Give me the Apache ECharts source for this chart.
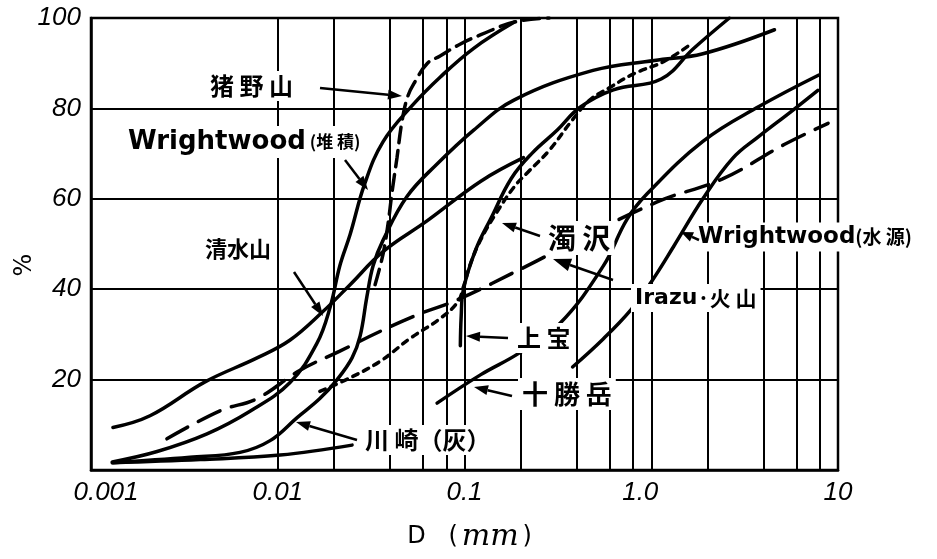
<!DOCTYPE html>
<html><head><meta charset="utf-8">
<script src="https://cdn.jsdelivr.net/npm/echarts@6/dist/echarts.min.js"></script>
<style>html,body{margin:0;padding:0;background:#fff}#c{width:937px;height:559px}</style>
</head><body><div id="c"></div>
<script>
// ---- tick labels / grid values ----
const xTickLabels = ['0.001', '0.01', '0.1', '1.0', '10'];
const yTickLabels = ['', '20', '40', '60', '80', '100'];
const minorGridD = [0.002, 0.004, 0.006, 0.008, 0.02, 0.04, 0.06, 0.08, 0.2, 0.4, 0.6, 0.8, 2, 4, 6, 8];

// ---- curves: D (mm) and cumulative % ----
const inoD = [0.0332, 0.0366, 0.039, 0.0409, 0.0435, 0.0463, 0.0498, 0.0545, 0.063, 0.074, 0.0946, 0.1223, 0.185, 0.284];
const inoY = [41.0, 47.7, 54.6, 61.4, 69.1, 77.2, 82.8, 86.0, 89.9, 91.6, 94.2, 96.3, 99.1, 100];

const wwDepD = [0.0013, 0.00226, 0.00418, 0.0071, 0.0116, 0.0162, 0.0191, 0.0215, 0.0244, 0.0292, 0.0366, 0.0524, 0.074, 0.112, 0.185];
const wwDepY = [1.8, 4.1, 8.0, 13.0, 19.3, 28.0, 36.1, 45.2, 52.1, 63.3, 72.6, 80.6, 86.9, 93.3, 99.1];

const shimizuD = [0.00131, 0.00207, 0.00408, 0.00775, 0.0116, 0.0174, 0.0244, 0.0366, 0.063, 0.1223, 0.207];
const shimizuY = [9.4, 12.0, 19.5, 24.8, 28.7, 35.0, 41.0, 48.3, 55.1, 63.9, 69.1];

const nigoD = [0.0168, 0.0244, 0.0355, 0.0511, 0.074, 0.0921, 0.0985, 0.1078, 0.1223, 0.1477, 0.185, 0.221, 0.284, 0.379, 0.47, 0.604, 0.81, 1.17, 1.64];
const nigoY = [17.4, 20.4, 24.1, 29.1, 33.5, 37.2, 40.4, 45.7, 51.0, 56.8, 62.7, 66.1, 70.7, 77.5, 81.9, 84.7, 87.7, 90.4, 94.3];

const kamiD = [0.095, 0.096, 0.0985, 0.115, 0.139, 0.178, 0.229, 0.314, 0.414, 0.627, 1.13, 1.68, 2.62];
const kamiY = [27.5, 34.0, 39.8, 48.8, 55.8, 64.5, 70.0, 75.2, 80.2, 84.1, 86.5, 93.2, 100];

const tokaD = [0.0713, 0.1223, 0.195, 0.322, 0.553, 0.74, 0.95, 1.89, 3.77, 7.9];
const tokaY = [14.8, 21.1, 25.8, 32.3, 45.1, 55.4, 61.1, 72.7, 80.4, 87.4];

const wwSrcD = [0.379, 0.553, 0.78, 1.0, 1.32, 1.89, 2.72, 3.77, 5.61, 7.8];
const wwSrcY = [22.8, 29.0, 35.5, 41.6, 49.5, 60, 68.9, 73.8, 79.3, 84.0];

const irazuD = [0.00255, 0.00491, 0.00775, 0.0131, 0.0215, 0.0355, 0.058, 0.091, 0.215, 0.322, 1.075, 2.41, 5.15, 8.85];
const irazuY = [6.9, 13.1, 15.8, 22.0, 26.3, 30.7, 34.6, 37.6, 45.1, 48.8, 59.3, 64.4, 72.0, 76.7];

const kawaAD = [0.0013, 0.00339, 0.00628, 0.0091, 0.0127, 0.0168, 0.0208, 0.025, 0.0276, 0.030, 0.0324, 0.0366, 0.0492, 0.0713, 0.112, 0.185, 0.488, 1.037, 1.89, 4.57];
const kawaAY = [1.6, 2.8, 3.9, 6.5, 11.6, 15.8, 20, 24.8, 29.6, 38.3, 45.2, 50.8, 60.5, 67.7, 75.2, 81.9, 88.4, 90.6, 92.1, 97.4];

const kawaBD = [0.00131, 0.00384, 0.0103, 0.025];
const kawaBY = [1.6, 2.3, 3.3, 5.5];

// ---- build ----
const pairs = (xs, ys) => xs.map((x, i) => [x, ys[i]]);
function curve(name, xs, ys, dash, extra) {
  return Object.assign({
    name, type: 'line', data: pairs(xs, ys), showSymbol: false, symbol: 'none',
    smooth: 0.4, silent: true,
    lineStyle: { color: '#000', width: 3.5, type: dash || 'solid', cap: 'round' }, z: 5
  }, extra || {});
}

const CJK = "'Noto Sans CJK JP'";
const LAT = "'DejaVu Sans'";
function lbl(x, y, text, font, rich) {
  const st = { text, x, y, font, fill: '#000', textVerticalAlign: 'middle', backgroundColor: '#fff', padding: [3, 4] };
  if (rich) st.rich = rich;
  return { type: 'text', z: 100, silent: true, style: st };
}
function arrow(x1, y1, x2, y2, len, w) {
  const dx = x2 - x1, dy = y2 - y1, L = Math.hypot(dx, dy);
  const ux = dx / L, uy = dy / L, bx = x2 - ux * len, by = y2 - uy * len;
  const nx = -uy * w / 2, ny = ux * w / 2;
  return [
    { type: 'line', z: 101, silent: true, shape: { x1, y1, x2: bx, y2: by }, style: { stroke: '#000', lineWidth: 2.5 } },
    { type: 'polygon', z: 101, silent: true, shape: { points: [[x2, y2], [bx + nx, by + ny], [bx - nx, by - ny]] }, style: { fill: '#000' } }
  ];
}

const graphics = [
  { type: 'text', z: 100, silent: true, x: 25, y: 265, rotation: Math.PI / 2,
    style: { text: '%', font: '24px ' + LAT, fill: '#000', textAlign: 'center', textVerticalAlign: 'middle' } },
  lbl(206, 86, '猪 野 山', 'bold 24px ' + CJK),
  lbl(124, 142, '{a|Wrightwood}{b| (堆 積)}', '', {
    a: { font: 'bold 26px ' + LAT, fill: '#000' }, b: { font: 'bold 17px ' + CJK, fill: '#000' } }),
  lbl(201, 249, '清水山', 'bold 22px ' + CJK),
  lbl(544, 238, '濁 沢', 'bold 28px ' + CJK),
  lbl(694, 237, '{a|Wrightwood}{b|(水 源)}', '', {
    a: { font: 'bold 23px ' + LAT, fill: '#000' }, b: { font: 'bold 19px ' + CJK, fill: '#000' } }),
  lbl(631, 298, '{a|Irazu}{b|·火 山}', '', {
    a: { font: 'bold 22px ' + LAT, fill: '#000' }, b: { font: 'bold 21px ' + CJK, fill: '#000' } }),
  lbl(513, 338, '上 宝', 'bold 24px ' + CJK),
  lbl(518, 394, '十 勝 岳', 'bold 26px ' + CJK),
  lbl(361, 440, '川 崎（灰）', 'bold 24px ' + CJK),
  ...arrow(320, 88, 402, 96, 14, 10),
  ...arrow(345, 160, 368, 190, 14, 10),
  ...arrow(294, 272, 323, 316, 14, 10),
  ...arrow(540, 236, 502, 223, 14, 10),
  ...arrow(699, 240, 681, 232, 12, 10),
  ...arrow(613, 280, 553, 259, 18, 13),
  ...arrow(508, 338, 466, 336, 14, 10),
  ...arrow(512, 396, 474, 387, 14, 10),
  ...arrow(357, 440, 296, 422, 14, 10)
];

const tickFont = { fontFamily: "'Liberation Sans'", fontStyle: 'italic', fontSize: 26, color: '#000' };

const option = {
  animation: false,
  backgroundColor: '#fff',
  grid: { left: 91, right: 99, top: 18, bottom: 89, outerBoundsMode: 'none', containLabel: false,
          show: true, borderColor: '#000', borderWidth: 2.5, backgroundColor: 'transparent' },
  xAxis: {
    type: 'log', logBase: 10, min: 0.001, max: 10,
    name: '{a|D}{s|      }{a|(}{s| }{b|mm}{s| }{a|)}', nameLocation: 'middle', nameGap: 52,
    nameTextStyle: { padding: [0, 0, 0, 10], rich: {
      a: { fontFamily: LAT, fontSize: 24, color: '#000' },
      s: { fontFamily: LAT, fontSize: 12 },
      b: { fontFamily: "'DejaVu Serif'", fontStyle: 'italic', fontSize: 30, color: '#000' } } },
    axisLine: { show: true, lineStyle: { color: '#000', width: 2.5 } },
    axisTick: { show: false },
    splitLine: { show: true, lineStyle: { color: '#000', width: 2 } },
    axisLabel: Object.assign({}, tickFont, {
      margin: 10,
      formatter: v => {
        const i = Math.round(Math.log10(v)) + 3;
        const s = xTickLabels[i] || '';
        if (i === 0) return '{f|' + s + '}';
        if (i === 3) return '{g|' + s + '}';
        return s;
      },
      rich: {
        f: Object.assign({}, tickFont, { padding: [0, 0, 0, 30] }),
        g: Object.assign({}, tickFont, { padding: [0, 22, 0, 0] })
      }
    })
  },
  yAxis: {
    type: 'value', min: 0, max: 100, interval: 20,
    axisLine: { show: true, lineStyle: { color: '#000', width: 2.5 } },
    axisTick: { show: false },
    splitLine: { show: true, lineStyle: { color: '#000', width: 2 } },
    axisLabel: Object.assign({}, tickFont, { margin: 10, formatter: v => yTickLabels[Math.round(v / 20)] || '' })
  },
  series: [
    curve('川崎(灰)B', kawaBD, kawaBY, 'solid', {
      markLine: {
        silent: true, symbol: 'none', animation: false, label: { show: false },
        lineStyle: { color: '#000', width: 2, type: 'solid' },
        emphasis: { disabled: true },
        data: minorGridD.map(v => ({ xAxis: v }))
      }
    }),
    curve('川崎(灰)A', kawaAD, kawaAY),
    curve('Wrightwood(堆積)', wwDepD, wwDepY),
    curve('清水山', shimizuD, shimizuY),
    curve('猪野山', inoD, inoY, [16, 8]),
    curve('濁沢', nigoD, nigoY, [6, 6]),
    curve('上宝', kamiD, kamiY),
    curve('十勝岳', tokaD, tokaY),
    curve('Wrightwood(水源)', wwSrcD, wwSrcY),
    curve('Irazu火山', irazuD, irazuY, [24, 12])
  ],
  graphic: graphics
};

const chart = echarts.init(document.getElementById('c'), null, { renderer: 'canvas' });
chart.setOption(option);
</script>
</body></html>
